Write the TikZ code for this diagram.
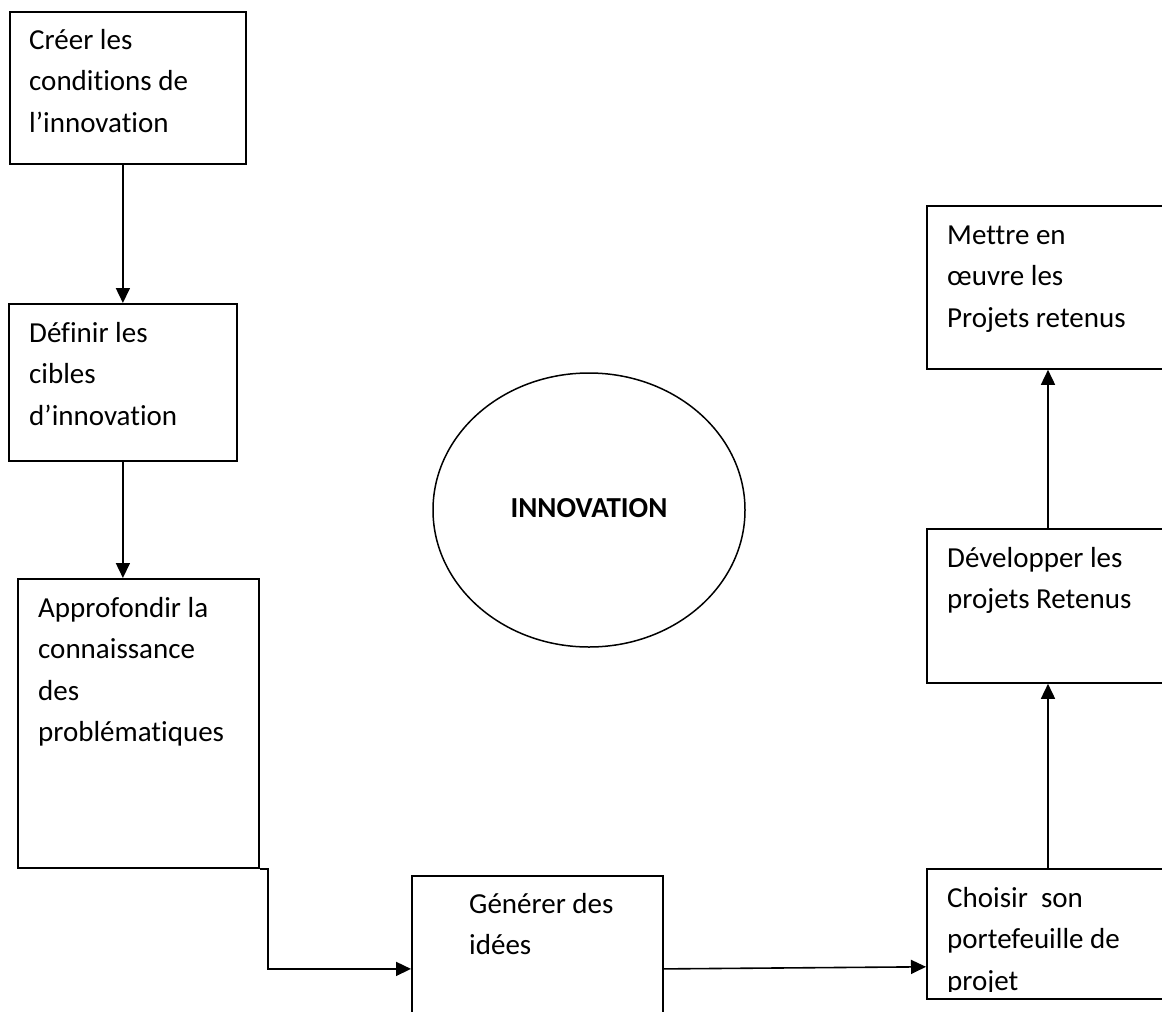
\documentclass[tikz,border=0pt]{standalone}
\usepackage{fontspec}
\setmainfont{Carlito}[Ligatures={NoCommon}]
\usetikzlibrary{arrows.meta,shapes.geometric}
\begin{document}
\begin{tikzpicture}[x=1pt,y=-1pt,
  box/.style={draw, line width=1.8pt, rectangle, inner sep=0pt, anchor=north west},
  txt/.style={anchor=north west, inner sep=0pt, align=left, font=\fontsize{29}{41.5}\selectfont},
  arr/.style={line width=1.6pt, -{Triangle[width=14pt,length=15pt]}}]
\useasboundingbox (0,0) rectangle (1162,1012);
\clip (0,0) rectangle (1162,1012);
% boxes
\node[box, minimum width=236pt, minimum height=152pt] (b1) at (9,11) {};
\node[box, minimum width=228pt, minimum height=157pt] (b2) at (8,303) {};
\node[box, minimum width=241pt, minimum height=289pt] (b3) at (17,578) {};
\node[box, minimum width=251pt, minimum height=186pt] (gen) at (411,875) {};
\node[box, minimum width=300pt, minimum height=130pt] (ch) at (926,868) {};
\node[box, minimum width=300pt, minimum height=154pt] (dev) at (926,528) {};
\node[box, minimum width=300pt, minimum height=163pt] (met) at (926,205) {};
\node[draw, ellipse, line width=1.5pt, minimum width=312pt, minimum height=274pt, inner sep=0pt] (ell) at (589,510) {};
% texts
\node[txt] (t1) at (29,24) {\rule{0pt}{25pt}Créer les\\conditions de\\l’innovation};
\node[txt] (t2) at (29,317) {\rule{0pt}{25pt}Définir les\\cibles\\d’innovation};
\node[txt] (t3) at (38,592) {\rule{0pt}{25pt}Approfondir la\\connaissance\\des\\problématiques};
\node[txt] (tgen) at (469,888) {\rule{0pt}{25pt}Générer des\\idées};
\begin{scope}
\clip (926,868) rectangle (1162,991);
\node[txt] (tch) at (947,882) {\rule{0pt}{25pt}Choisir\ \ son\\portefeuille de\\projet};
\end{scope}
\node[txt] (tdev) at (947,542) {\rule{0pt}{25pt}Développer les\\projets Retenus};
\node[txt] (tmet) at (947,219) {\rule{0pt}{25pt}Mettre en\\œuvre les\\Projets retenus};
\node[anchor=base, inner sep=0pt, font=\fontsize{29}{35}\selectfont\bfseries] (tinn) at (589,517) {INNOVATION};
% connectors
\draw[arr] (b2.north |- b1.south) -- (b2.north);
\draw[arr] (b2.south) -- (b2.south |- b3.north);
\draw[arr] (b3.south east) -- ([xshift=8pt]b3.south east) |- (gen.west);
\draw[arr] (gen.east) -- ([yshift=33pt]ch.south west);
\draw[arr] ([xshift=122pt]ch.north west) -- ([xshift=122pt]dev.south west);
\draw[arr] ([xshift=122pt]dev.north west) -- ([xshift=122pt]met.south west);
\end{tikzpicture}
\end{document}
